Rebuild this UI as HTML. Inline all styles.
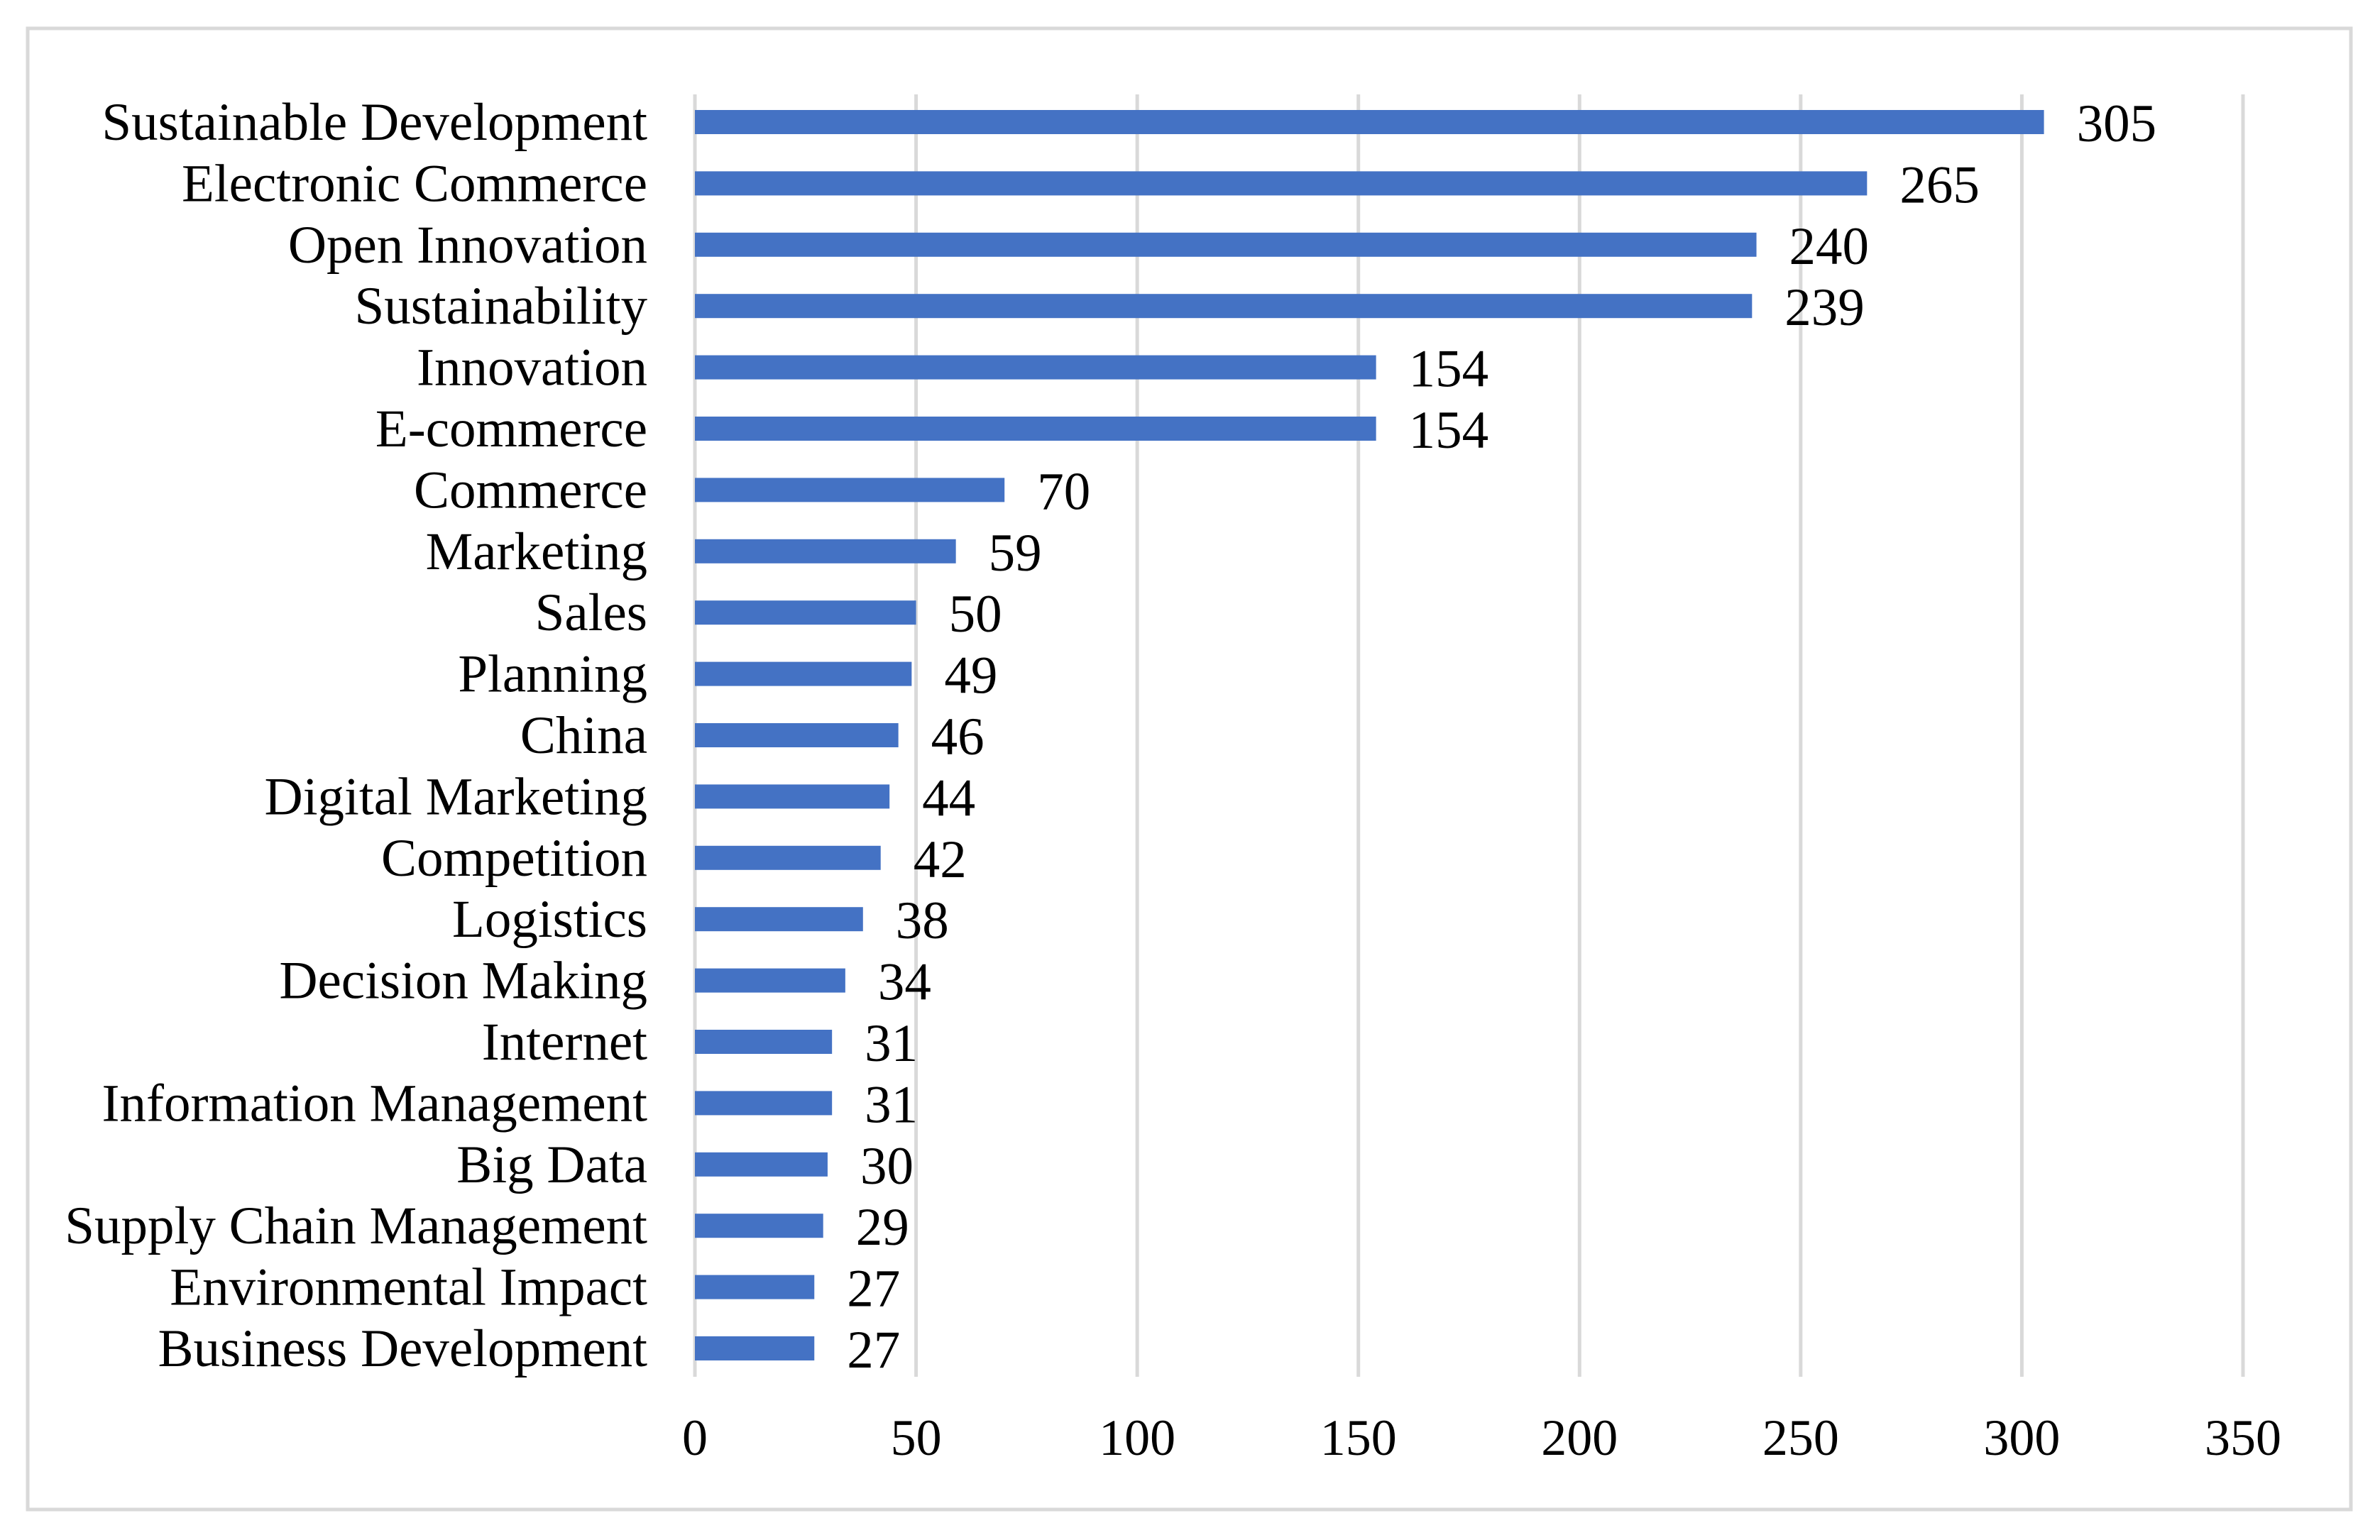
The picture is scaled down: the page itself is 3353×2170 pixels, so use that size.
<!DOCTYPE html>
<html><head><meta charset="utf-8"><style>
html,body{margin:0;padding:0;background:#fff;}
svg{display:block;font-family:"Liberation Serif","Times New Roman",serif;}
</style></head><body>
<svg id="chart" width="3353" height="2170" xmlns="http://www.w3.org/2000/svg">
<rect x="39" y="40" width="3273" height="2087" fill="#fff" stroke="#d9d9d9" stroke-width="5"/>
<g id="grid"></g><g id="bars"></g><g id="labels"></g>
</svg>
<script>
const categories=["Sustainable Development","Electronic Commerce","Open Innovation","Sustainability","Innovation","E-commerce","Commerce","Marketing","Sales","Planning","China","Digital Marketing","Competition","Logistics","Decision Making","Internet","Information Management","Big Data","Supply Chain Management","Environmental Impact","Business Development"];
const values=[305,265,240,239,154,154,70,59,50,49,46,44,42,38,34,31,31,30,29,27,27];
const ticks=[0,50,100,150,200,250,300,350];
const NS="http://www.w3.org/2000/svg";
const x0=979,pxPer=(3160-979)/350;
const yTop=172,pitch=(1900-172)/(categories.length-1);
const xs=v=>x0+v*pxPer, ys=i=>yTop+i*pitch;
function mk(t,a,p){const e=document.createElementNS(NS,t);for(const k in a)e.setAttribute(k,a[k]);p.appendChild(e);return e;}
const g=document.getElementById('grid'),b=document.getElementById('bars'),l=document.getElementById('labels');
ticks.forEach(t=>{
 const ln=mk('line',{x1:xs(t),x2:xs(t),y1:133,y2:1940,stroke:'#d9d9d9','stroke-width':5},g);
 
 
 const tx=mk('text',{x:xs(t),y:2050,'font-size':72,'text-anchor':'middle',fill:'#000'},l);
 tx.textContent=t;
 
 
});
categories.forEach((c,i)=>{
 const y=ys(i);
 const r=mk('rect',{x:x0,y:y-17,width:xs(values[i])-x0,height:34,fill:'#4472c4'},b);
 
 
 const ct=mk('text',{x:912,y:y+25,'font-size':75,'text-anchor':'end',fill:'#000'},l);
 ct.textContent=c;
 
 
 const vt=mk('text',{x:xs(values[i])+46,y:y+27,'font-size':75,fill:'#000'},l);
 vt.textContent=values[i];
 
 
});
</script>
</body></html>
